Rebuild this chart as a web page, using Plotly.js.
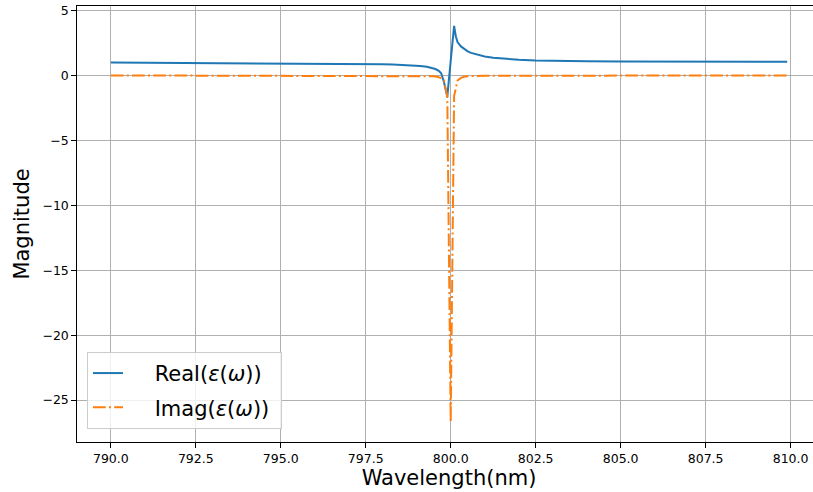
<!DOCTYPE html>
<html>
<head>
<meta charset="utf-8">
<script src="https://cdn.plot.ly/plotly-3.0.1.min.js"></script>
<style>
html,body{margin:0;padding:0;overflow:hidden;background:#fff;}
#chart{width:830px;height:492px;}
</style>
</head>
<body>
<div id="chart"></div>
<script>
// Real part of permittivity
const realWavelength = [790, 791, 792, 793, 794, 795, 796, 797, 797.5, 798, 798.3, 798.6, 798.9, 799.1, 799.3, 799.45, 799.55, 799.65, 799.72, 799.8, 799.9, 800.0, 800.1, 800.15, 800.2, 800.3, 800.4, 800.5, 800.6, 800.8, 801, 801.25, 801.5, 801.75, 802, 802.5, 803, 804, 805, 806, 807, 808, 809, 809.9];
const realValue = [0.98, 0.97, 0.96, 0.95, 0.94, 0.93, 0.91, 0.89, 0.87, 0.85, 0.83, 0.8, 0.76, 0.72, 0.66, 0.58, 0.48, 0.34, 0.16, -0.5, -1.65, 1.1, 3.8, 3.0, 2.55, 2.22, 2.0, 1.84, 1.72, 1.56, 1.45, 1.35, 1.28, 1.23, 1.19, 1.14, 1.11, 1.08, 1.06, 1.05, 1.05, 1.04, 1.04, 1.04];

// Imaginary part of permittivity
const imagWavelength = [790, 795, 799, 799.5, 799.6, 799.7, 799.8, 799.9, 800.0, 800.1, 800.2, 800.3, 800.4, 800.5, 801, 805, 809.9];
const imagValue = [-0.01, -0.02, -0.05, -0.08, -0.12, -0.2, -0.4, -1.6, -26.7, -1.6, -0.4, -0.2, -0.12, -0.08, -0.04, -0.02, -0.01];

const xTicks = [790, 792.5, 795, 797.5, 800, 802.5, 805, 807.5, 810];
const yTicks = [5, 0, -5, -10, -15, -20, -25];
const seriesNames = ['Real(<i>ε</i>(<i>ω</i>))', 'Imag(<i>ε</i>(<i>ω</i>))'];

const FONT = 'DejaVu Sans, sans-serif';
const pad = s => '\u00a0\u00a0\u00a0\u00a0' + s + '\u00a0';

const traces = [
  {
    x: realWavelength, y: realValue, type: 'scatter', mode: 'lines',
    name: pad(seriesNames[0]), legendgroup: 'a',
    line: {color: '#1f77b4', width: 2}
  },
  {
    x: imagWavelength, y: imagValue, type: 'scatter', mode: 'lines',
    name: pad(seriesNames[1]), legendgroup: 'b',
    line: {color: '#ff7f0e', width: 2, dash: '12.8px,3.2px,2px,3.2px'}
  }
];

const axisCommon = {
  showline: true, mirror: true, linecolor: '#000', linewidth: 1,
  ticks: 'outside', ticklen: 4.7, tickwidth: 1, tickcolor: '#000',
  showgrid: true, gridcolor: '#b0b0b0', gridwidth: 1,
  zeroline: false, automargin: false,
  tickfont: {family: FONT, size: 12.5, color: '#000'}
};

const layout = {
  width: 830, height: 492,
  margin: {l: 77, r: 9, t: 6, b: 50},
  paper_bgcolor: '#fff', plot_bgcolor: '#fff',
  font: {family: FONT, color: '#000'},
  showlegend: true,
  xaxis: Object.assign({}, axisCommon, {
    range: [789.005, 810.895],
    tickvals: xTicks,
    ticktext: xTicks.map(v => v.toFixed(1)),
    title: {text: 'Wavelength(nm)', font: {family: FONT, size: 21, color: '#000'}, standoff: 2}
  }),
  yaxis: Object.assign({}, axisCommon, {
    range: [-28.225, 5.33],
    tickvals: yTicks,
    title: {text: 'Magnitude', font: {family: FONT, size: 21, color: '#000'}, standoff: 7}
  }),
  legend: {
    x: 0.0134, y: 0.03, xanchor: 'left', yanchor: 'bottom',
    tracegroupgap: 4,
    bgcolor: 'rgba(255,255,255,0.8)', bordercolor: '#cccccc', borderwidth: 1,
    font: {family: FONT, size: 21, color: '#000'}
  }
};

Plotly.newPlot('chart', traces, layout, {displayModeBar: false, staticPlot: true});
</script>
</body>
</html>
